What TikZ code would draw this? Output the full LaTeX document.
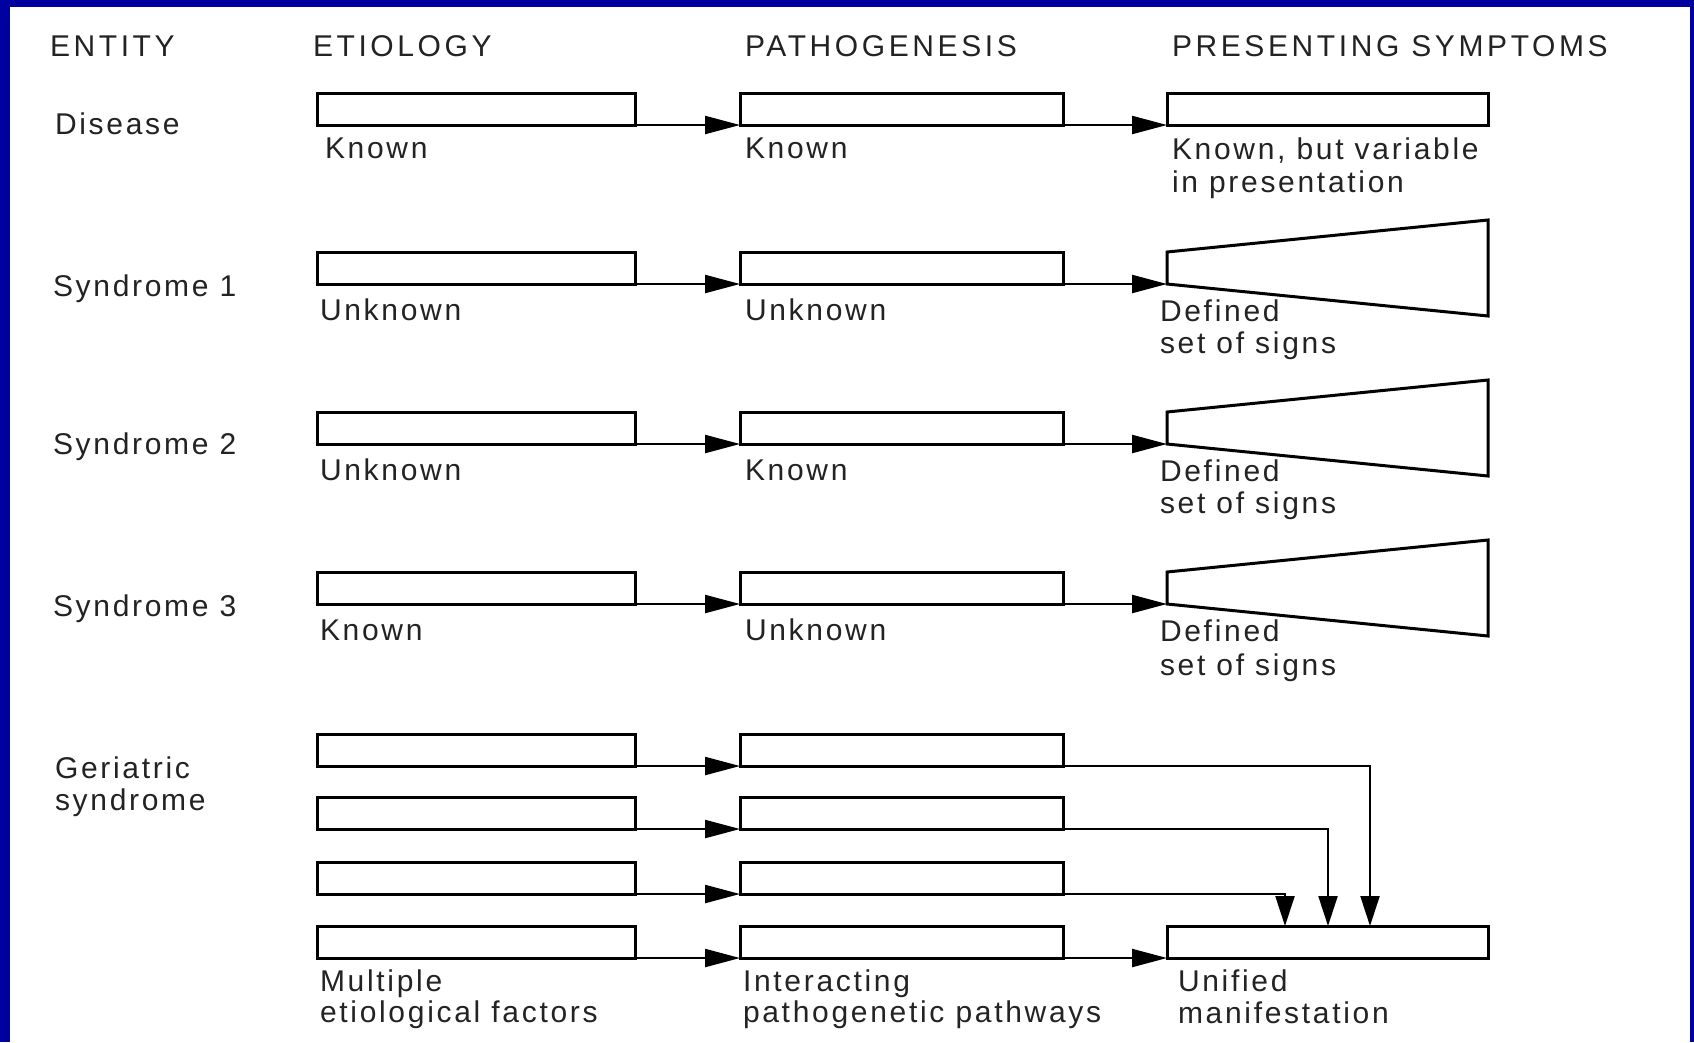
\documentclass[tikz,border=0pt]{standalone}
\usepackage{fontspec}
\setmainfont{Liberation Sans}[LetterSpace=9]
\usetikzlibrary{arrows.meta}
\definecolor{frameblue}{RGB}{0,0,160}
\definecolor{txt}{RGB}{35,35,35}
\newcommand\lblfont{\fontsize{30pt}{32pt}\selectfont}
\newcommand\hdrfont{\fontsize{30pt}{32pt}\selectfont\addfontfeature{LetterSpace=12}}
\tikzset{
  box/.style={draw, line width=3pt, inner sep=0pt, outer sep=0pt, anchor=north west, minimum height=32pt},
  ebox/.style={box, minimum width=318pt},
  pbox/.style={box, minimum width=323pt},
  sbox/.style={box, minimum width=321pt},
  trap/.style={draw, line width=3pt, line join=miter},
  arr/.style={line width=2.2pt, -{Triangle[length=35pt,width=18pt]}},
  varr/.style={line width=2.2pt, -{Triangle[length=30pt,width=19pt]}},
  lbl/.style={anchor=base west, inner sep=0pt, outer sep=0pt, font=\lblfont, text=txt},
  hdr/.style={lbl, font=\hdrfont}
}
\begin{document}
\begin{tikzpicture}[x=1pt,y=-1pt]
\useasboundingbox (0,0) rectangle (1694,1042);
\fill[frameblue] (0,0) rectangle (1694,1042);
\fill[white] (10,7) rectangle (1690,1042);

% headers
\node[hdr] (hEnt) at (50,56) {ENTITY};
\node[hdr] (hEti) at (313,56) {ETIOLOGY};
\node[hdr] (hPat) at (745,56) {PATHOGENESIS};
\node[hdr] (hPre) at (1172,56) {PRESENTING SYMPTOMS};

% row labels
\node[lbl] (rDis) at (55,134.5) {Disease};
\node[lbl] (rS1) at (53,296.5) {Syndrome 1};
\node[lbl] (rS2) at (53,454.5) {Syndrome 2};
\node[lbl] (rS3) at (53,616.5) {Syndrome 3};
\node[lbl] (rG1) at (55,778.5) {Geriatric};
\node[lbl] (rG2) at (55,810.5) {syndrome};

% Disease row
\node[ebox] (e0) at (317,93) {};
\node[pbox] (p0) at (740,93) {};
\node[sbox] (s0) at (1167,93) {};
\draw[arr] (e0.south east) -- (p0.south west);
\draw[arr] (p0.south east) -- (s0.south west);
\node[lbl] (le0) at (325,158.5) {Known};
\node[lbl] (lp0) at (745,158.5) {Known};
\node[lbl] (ls0a) at (1172,159.5) {Known, but variable};
\node[lbl] (ls0b) at (1172,192) {in presentation};

% Syndrome rows
\foreach \i/\t/\et/\pt/\dy in {1/252/Unknown/Unknown/0, 2/412/Unknown/Known/0, 3/572/Known/Unknown/2}{
  \node[ebox] (e\i) at (317,\t) {};
  \node[pbox] (p\i) at (740,\t) {};
  \coordinate (s\i) at (1167,\t+32);
  \draw[trap] (1167,\t) -- (1488,\t-32) -- (1488,\t+64) -- (s\i) -- cycle;
  \draw[arr] (e\i.south east) -- (p\i.south west);
  \draw[arr] (p\i.south east) -- (s\i);
  \node[lbl] (le\i) at (320,\t+68.5) {\et};
  \node[lbl] (lp\i) at (745,\t+68.5) {\pt};
  \node[lbl] (lsa\i) at (1160,\t+69.5) {Defined};
  \node[lbl] (lsb\i) at (1160,\t+101.5+\dy) {set of signs};
}

% Geriatric syndrome
\node[ebox] (eg1) at (317,734) {};
\node[pbox] (pg1) at (740,734) {};
\node[ebox] (eg2) at (317,797) {};
\node[pbox] (pg2) at (740,797) {};
\node[ebox] (eg3) at (317,862) {};
\node[pbox] (pg3) at (740,862) {};
\node[ebox] (eg4) at (317,926) {};
\node[pbox] (pg4) at (740,926) {};
\node[sbox] (u) at (1167,926) {};
\foreach \i in {1,2,3,4}{
  \draw[arr] (eg\i.south east) -- (pg\i.south west);
}
\draw[arr] (pg4.south east) -- (u.south west);
\coordinate (u1) at (1370,926);
\coordinate (u2) at (1328,926);
\coordinate (u3) at (1285,926);
\draw[varr] (pg1.south east) -| (u1);
\draw[varr] (pg2.south east) -| (u2);
\draw[varr] (pg3.south east) -| (u3);

\node[lbl] (lg1) at (320,991.5) {Multiple};
\node[lbl] (lg2) at (320,1022.5) {etiological factors};
\node[lbl] (lg3) at (743,991.5) {Interacting};
\node[lbl] (lg4) at (743,1022.5) {pathogenetic pathways};
\node[lbl] (lg5) at (1178,991.5) {Unified};
\node[lbl] (lg6) at (1178,1023.5) {manifestation};
\end{tikzpicture}
\end{document}
